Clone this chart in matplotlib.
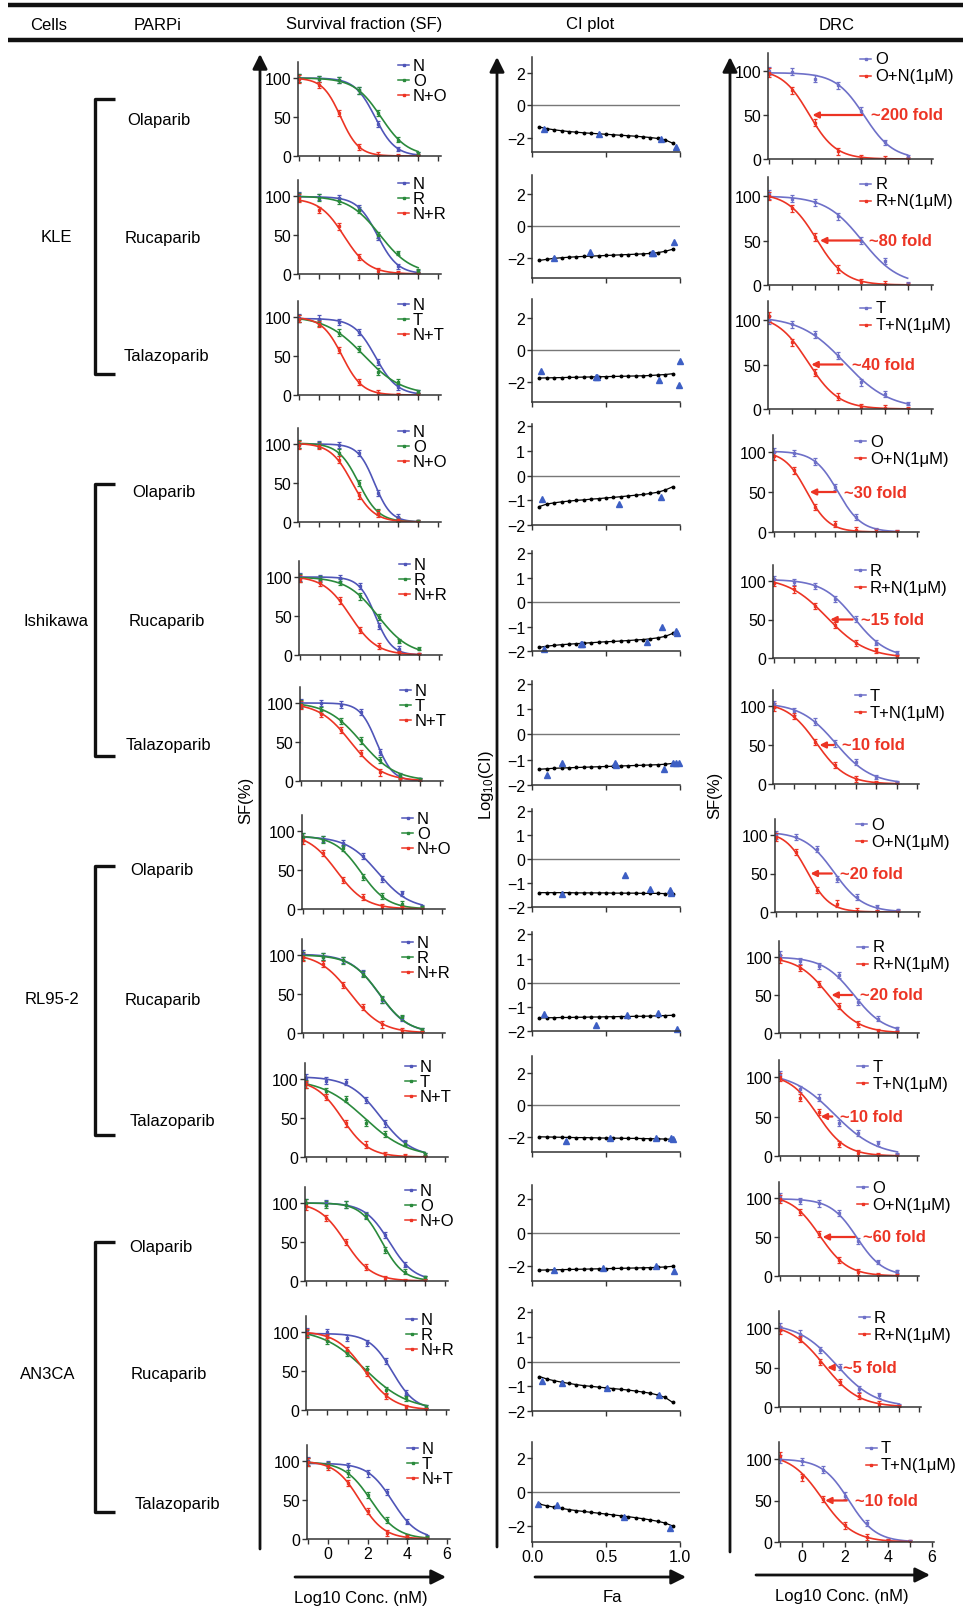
import numpy as np
import matplotlib.pyplot as plt

plt.rcParams['font.family'] = ['Liberation Sans', 'DejaVu Sans']
plt.rcParams['mathtext.default'] = 'regular'

# ---- data ----
cells = ['KLE', 'Ishikawa', 'RL95-2', 'AN3CA']
parpi = ['Olaparib', 'Rucaparib', 'Talazoparib'] * 4
drug = ['O', 'R', 'T'] * 4
dose = np.array([-1, 0, 1, 2, 3, 4, 5])  # log10 conc (nM)
sf_err = np.array([5, 4, 4, 4, 4, 3, 2])

# survival fraction, niraparib alone
sf_n = [
    [100, 99, 97, 84, 41, 9, 3],
    [100, 99, 97, 85, 47, 10, 3],
    [99, 98, 94, 81, 42, 10, 4],
    [100, 100, 99, 88, 37, 7, 1],
    [100, 99, 99, 88, 37, 8, 1],
    [100, 100, 98, 88, 37, 7, 2],
    [92, 90, 85, 68, 38, 20, 3],
    [101, 98, 94, 77, 42, 19, 4],
    [101, 98, 96, 73, 43, 19, 3],
    [100, 100, 98, 85, 59, 21, 5],
    [100, 100, 92, 86, 63, 22, 4],
    [100, 96, 93, 84, 60, 22, 3],
]
# survival fraction, PARPi alone
sf_p = [
    [100, 99, 97, 84, 55, 21, 3],
    [99, 98, 94, 82, 50, 27, 4],
    [98, 92, 80, 59, 30, 17, 4],
    [100, 99, 89, 50, 13, 3, 1],
    [99, 97, 94, 75, 49, 18, 8],
    [99, 91, 77, 52, 27, 6, 2],
    [92, 89, 78, 41, 17, 7, 2],
    [99, 98, 93, 76, 43, 20, 4],
    [94, 85, 74, 44, 29, 17, 3],
    [100, 98, 98, 83, 40, 12, 5],
    [97, 88, 73, 52, 25, 15, 4],
    [99, 95, 84, 56, 24, 3, 2],
]
# survival fraction, combination
sf_c = [
    [99, 91, 55, 12, 1, 0, 0],
    [97, 82, 61, 22, 4, 1, 0],
    [98, 91, 58, 17, 2, 0, 0],
    [99, 97, 80, 34, 11, 2, 0],
    [98, 92, 70, 32, 12, 2, 1],
    [97, 86, 65, 36, 11, 2, 0],
    [88, 72, 37, 15, 3, 1, 0],
    [97, 88, 62, 33, 11, 3, 1],
    [93, 77, 43, 16, 3, 1, 0],
    [96, 81, 50, 18, 3, 0, 0],
    [99, 94, 77, 48, 18, 4, 1],
    [99, 93, 72, 36, 8, 2, 0],
]

# combination index: median-effect line and measured points
fa_line = [0.05, 0.10, 0.15, 0.20, 0.25, 0.30, 0.35, 0.40, 0.45, 0.50,
           0.55, 0.60, 0.65, 0.70, 0.75, 0.80, 0.85, 0.90, 0.95]
ci_line = [
    [-1.35, -1.45, -1.52, -1.58, -1.63, -1.67, -1.71, -1.74, -1.77, -1.80, -1.83, -1.86, -1.89, -1.92, -1.96, -2.00, -2.06, -2.15, -2.35],
    [-2.15, -2.08, -2.02, -1.98, -1.95, -1.92, -1.90, -1.88, -1.86, -1.84, -1.82, -1.80, -1.78, -1.76, -1.74, -1.71, -1.66, -1.58, -1.45],
    [-1.75, -1.74, -1.73, -1.72, -1.71, -1.70, -1.69, -1.68, -1.67, -1.66, -1.65, -1.64, -1.63, -1.62, -1.61, -1.59, -1.56, -1.53, -1.48],
    [-1.25, -1.15, -1.10, -1.06, -1.03, -1.00, -0.98, -0.95, -0.93, -0.90, -0.88, -0.85, -0.82, -0.79, -0.76, -0.72, -0.67, -0.58, -0.45],
    [-1.85, -1.80, -1.77, -1.74, -1.72, -1.70, -1.68, -1.66, -1.64, -1.62, -1.61, -1.59, -1.57, -1.55, -1.53, -1.50, -1.46, -1.40, -1.28],
    [-1.38, -1.36, -1.34, -1.33, -1.32, -1.31, -1.30, -1.29, -1.28, -1.27, -1.26, -1.25, -1.24, -1.23, -1.22, -1.21, -1.20, -1.18, -1.15],
    [-1.40, -1.40, -1.40, -1.40, -1.40, -1.41, -1.41, -1.41, -1.41, -1.41, -1.42, -1.42, -1.42, -1.42, -1.43, -1.43, -1.43, -1.44, -1.45],
    [-1.46, -1.45, -1.45, -1.44, -1.44, -1.43, -1.43, -1.42, -1.42, -1.41, -1.41, -1.40, -1.40, -1.39, -1.39, -1.38, -1.37, -1.36, -1.35],
    [-2.00, -2.01, -2.02, -2.03, -2.04, -2.05, -2.05, -2.06, -2.07, -2.08, -2.08, -2.09, -2.10, -2.10, -2.11, -2.12, -2.13, -2.14, -2.16],
    [-2.25, -2.24, -2.23, -2.22, -2.21, -2.20, -2.19, -2.18, -2.17, -2.16, -2.15, -2.14, -2.13, -2.12, -2.11, -2.10, -2.08, -2.06, -2.02],
    [-0.60, -0.70, -0.77, -0.83, -0.88, -0.93, -0.97, -1.00, -1.03, -1.06, -1.09, -1.12, -1.15, -1.19, -1.23, -1.28, -1.35, -1.45, -1.65],
    [-0.70, -0.80, -0.88, -0.95, -1.02, -1.08, -1.13, -1.18, -1.23, -1.28, -1.33, -1.38, -1.43, -1.49, -1.55, -1.62, -1.70, -1.80, -1.97],
]
ci_pt_fa = [
    [0.08, 0.45, 0.87, 0.97],
    [0.15, 0.39, 0.81, 0.82, 0.96],
    [0.06, 0.43, 0.44, 0.86, 0.99, 1.0],
    [0.07, 0.59, 0.87],
    [0.08, 0.33, 0.34, 0.78, 0.88, 0.97, 0.98],
    [0.10, 0.20, 0.56, 0.57, 0.89, 0.95, 0.97, 0.99],
    [0.20, 0.63, 0.80, 0.93, 0.94],
    [0.08, 0.43, 0.64, 0.85, 0.98],
    [0.23, 0.53, 0.84, 0.94, 0.95],
    [0.15, 0.48, 0.84, 0.96],
    [0.07, 0.20, 0.51, 0.86],
    [0.04, 0.17, 0.62, 0.93],
]
ci_pt_val = [
    [-1.45, -1.80, -2.10, -2.60],
    [-2.0, -1.65, -1.70, -1.70, -1.0],
    [-1.3, -1.7, -1.7, -1.85, -2.2, -0.7],
    [-0.95, -1.15, -0.85],
    [-1.9, -1.7, -1.7, -1.65, -1.0, -1.2, -1.25],
    [-1.6, -1.15, -1.15, -1.2, -1.35, -1.15, -1.15, -1.15],
    [-1.45, -0.65, -1.25, -1.3, -1.4],
    [-1.3, -1.75, -1.35, -1.25, -1.9],
    [-2.25, -2.05, -2.05, -2.1, -2.15],
    [-2.25, -2.1, -2.0, -2.3],
    [-0.8, -0.85, -1.05, -1.35],
    [-0.7, -0.75, -1.45, -2.1],
]

# dose response, PARPi alone and PARPi + niraparib 1 uM
drc_p = [
    [100, 99, 91, 84, 55, 19, 2],
    [102, 97, 93, 77, 50, 27, 1],
    [100, 95, 84, 60, 30, 17, 6],
    [100, 99, 88, 56, 19, 2, 0],
    [102, 99, 94, 77, 51, 20, 7],
    [102, 93, 80, 52, 28, 9, 2],
    [100, 97, 82, 43, 19, 6, 2],
    [103, 95, 88, 76, 41, 19, 6],
    [102, 85, 74, 42, 29, 16, 2],
    [101, 96, 93, 81, 45, 18, 6],
    [101, 93, 72, 51, 23, 15, 2],
    [100, 97, 87, 56, 23, 1, 1],
]
drc_c = [
    [98, 78, 41, 9, 1, 0, 0],
    [100, 86, 54, 18, 3, 1, 0],
    [104, 75, 41, 14, 2, 1, 0],
    [95, 77, 31, 10, 2, 1, 0],
    [98, 89, 67, 43, 20, 10, 2],
    [99, 87, 54, 24, 6, 1, 0],
    [97, 78, 29, 11, 1, 0, 0],
    [97, 85, 64, 35, 12, 2, 1],
    [100, 74, 56, 15, 4, 1, 0],
    [99, 82, 54, 21, 5, 1, 0],
    [98, 86, 57, 32, 14, 4, 1],
    [104, 78, 52, 20, 6, 1, 0],
]
fold = ['~200 fold', '~80 fold', '~40 fold', '~30 fold', '~15 fold', '~10 fold',
        '~20 fold', '~20 fold', '~10 fold', '~60 fold', '~5 fold', '~10 fold']

# ---- layout (pixel positions in the 963x1608 canvas) ----
W, H = 963, 1608
sf_zero = [157, 275, 396, 523, 656, 782, 910, 1034, 1158, 1282, 1411, 1540]
sf_left = [298, 298, 298, 298, 299, 300, 302, 302, 305, 305, 306, 307]
ci_top = [58, 176, 300, 425, 552, 682, 810, 933, 1057, 1186, 1311, 1443]
ci_bottom = [153, 279, 403, 526, 652, 786, 908, 1032, 1153, 1282, 1412, 1543]
ci_ylim = [(-2.9, 3.0), (-3.25, 3.2), (-3.25, 3.2), (-2, 2.1), (-2, 2.1), (-2, 2.1),
           (-2, 2.1), (-2, 2.1), (-2.95, 3.05), (-2.9, 2.85), (-2, 2.1), (-2.9, 2.9)]
drc_zero = [160, 286, 410, 533, 659, 785, 913, 1034, 1157, 1277, 1408, 1543]
drc_h100 = [88, 89, 89, 80, 77, 78, 77, 76, 79, 78, 79, 83]
drc_left = [768, 768, 768, 773, 773, 773, 775, 779, 779, 779, 779, 779]
drc_right = [933, 933, 933, 919, 919, 919, 920, 919, 919, 919, 921, 934]
parpi_xy = [(159, 121), (163, 238), (166, 357), (164, 492), (167, 622), (168, 746),
            (162, 871), (163, 1001), (172, 1122), (161, 1248), (169, 1375), (177, 1505)]
cell_xy = [(56, 238), (56, 622), (52, 1000), (48, 1375)]
bracket_y = [(100, 375), (485, 757), (867, 1136), (1243, 1513)]

BLUE, GREEN, RED = '#4f55b8', '#2a8a3c', '#ec3424'
BLUE2 = '#6e70c8'
TRI = '#3d5fc4'
FS = 12

fig = plt.figure(figsize=(W / 100, H / 100), dpi=100)


def px_axes(left, top, right, bottom):
    return fig.add_axes([left / W, 1 - bottom / H, (right - left) / W, (bottom - top) / H])


def style(ax):
    for s in ['top', 'right']:
        ax.spines[s].set_visible(False)
    for s in ['left', 'bottom']:
        ax.spines[s].set_linewidth(1.1)
        ax.spines[s].set_color('#333333')
    ax.tick_params(direction='out', length=3.5, width=1, color='#333333',
                   labelsize=11.5, pad=1.5)
    ax.patch.set_alpha(0)


def hill(x, top, c, h):
    return top / (1 + 10 ** (h * (x - c)))


def fit_hill(x, y):
    tops = np.linspace(90, 106, 17)
    cs = np.linspace(-2, 6, 321)
    hs = np.linspace(0.3, 3.0, 55)
    T, C, S = np.meshgrid(tops, cs, hs, indexing='ij')
    pred = hill(x[None, None, None, :], T[..., None], C[..., None], S[..., None])
    sse = ((pred - np.asarray(y, float)) ** 2).sum(-1)
    i, j, k = np.unravel_index(sse.argmin(), sse.shape)
    return tops[i], cs[j], hs[k]


def mini_legend(ax, labels, colors, x0, y0, dy, hpx, wpx, fs):
    for j, (lab, col) in enumerate(zip(labels, colors)):
        y = y0 - j * dy / hpx
        ax.plot([x0, x0 + 11 / wpx], [y, y], transform=ax.transAxes, color=col,
                lw=1.1, clip_on=False)
        ax.plot([x0 + 5.5 / wpx], [y], 's', ms=2.0, color=col,
                transform=ax.transAxes, clip_on=False)
        ax.text(x0 + 15 / wpx, y, lab, transform=ax.transAxes, fontsize=fs,
                va='center', ha='left')


def dose_points(ax, vals, col):
    ax.errorbar(dose, vals, yerr=sf_err, fmt='s', ms=1.7, color=col,
                elinewidth=0.9, capsize=1.6, capthick=0.9)


xs = np.linspace(-1, 5, 200)
last = len(sf_n) - 1

for r in range(len(sf_n)):
    # survival fraction panel
    top = sf_zero[r] - 94
    ax = px_axes(sf_left[r], top, sf_left[r] + 143, sf_zero[r])
    style(ax)
    labels = ['N', drug[r], 'N+' + drug[r]]
    for vals, col in zip([sf_n[r], sf_p[r], sf_c[r]], [BLUE, GREEN, RED]):
        p = fit_hill(dose, vals)
        ax.plot(xs, hill(xs, *p), color=col, lw=1.2)
        dose_points(ax, vals, col)
    ax.set_xlim(-1.05, 6.15)
    ax.set_ylim(0, 120.5)
    ax.set_yticks([0, 50, 100])
    ax.set_xticks(range(-1, 7))
    if r == last:
        ax.set_xticklabels(['', '0', '', '2', '', '4', '', '6'])
    else:
        ax.tick_params(labelbottom=False)
    mini_legend(ax, labels, [BLUE, GREEN, RED], 0.70, 0.965, 15, 94, 143, FS)

    # combination index panel
    ax = px_axes(532, ci_top[r], 680, ci_bottom[r])
    style(ax)
    ax.axhline(0, color='#777777', lw=1.0)
    ax.plot(fa_line, ci_line[r], '-o', color='k', ms=1.8, lw=0.9)
    ax.plot(ci_pt_fa[r], ci_pt_val[r], '^', color=TRI, ms=4.2, ls='none', clip_on=False)
    ax.set_xlim(0, 1.0)
    ax.set_ylim(*ci_ylim[r])
    if ci_ylim[r][0] == -2:
        ax.set_yticks([-2, -1, 0, 1, 2])
    else:
        ax.set_yticks([-2, 0, 2])
    ax.set_xticks([0, 0.5, 1.0])
    if r == last:
        ax.set_xticklabels(['0.0', '0.5', '1.0'])
    else:
        ax.tick_params(labelbottom=False)

    # dose response panel
    hpx = drc_h100[r] * 1.21
    ax = px_axes(drc_left[r], drc_zero[r] - hpx, drc_right[r], drc_zero[r])
    style(ax)
    fits = []
    for vals, col in zip([drc_p[r], drc_c[r]], [BLUE2, RED]):
        p = fit_hill(dose, vals)
        fits.append(p)
        ax.plot(xs, hill(xs, *p), color=col, lw=1.2)
        dose_points(ax, vals, col)
    ax.set_xlim(-1.05, 6.1)
    ax.set_ylim(0, 121)
    ax.set_yticks([0, 50, 100])
    ax.set_xticks(range(-1, 7))
    if r == last:
        ax.set_xticklabels(['', '0', '', '2', '', '4', '', '6'])
    else:
        ax.tick_params(labelbottom=False)
    c_single, c_combo = fits[0][1], fits[1][1]
    ax.annotate('', xy=(c_combo + 0.15, 50), xytext=(c_single - 0.1, 50),
                arrowprops=dict(arrowstyle='-|>', color=RED, lw=1.6, mutation_scale=9,
                                shrinkA=0, shrinkB=0))
    ax.text(c_single + 0.3, 50, fold[r], color=RED, fontsize=12, fontweight='bold',
            va='center', ha='left')
    wpx = drc_right[r] - drc_left[r]
    mini_legend(ax, [drug[r], drug[r] + '+N(1μM)'], [BLUE2, RED], 0.56, 0.94, 17,
                hpx, wpx, FS)

# ---- figure furniture drawn in pixel coordinates ----
ov = fig.add_axes([0, 0, 1, 1], zorder=10)
ov.set_xlim(0, W)
ov.set_ylim(H, 0)
ov.axis('off')
ov.patch.set_alpha(0)

ov.plot([8, W], [6, 6], color='#111111', lw=3.2, solid_capstyle='butt')
ov.plot([8, W], [41, 41], color='#111111', lw=3.2, solid_capstyle='butt')
for txt, x in zip(['Cells', 'PARPi', 'Survival fraction (SF)', 'CI plot', 'DRC'],
                  [49, 158, 364, 590, 837]):
    ov.text(x, 25, txt, fontsize=FS, ha='center', va='center')

for name, (x, y) in zip(cells, cell_xy):
    ov.text(x, y, name, fontsize=FS, ha='center', va='center')
for name, (x, y) in zip(parpi, parpi_xy):
    ov.text(x, y, name, fontsize=FS, ha='center', va='center')
for y0, y1 in bracket_y:
    ov.plot([115, 95, 95, 115], [y0, y0, y1, y1], color='#111111', lw=2.4,
            solid_joinstyle='round', solid_capstyle='butt')

arrow = dict(arrowstyle='-|>', color='#111111', lw=2.0, mutation_scale=22,
             shrinkA=0, shrinkB=0)
for x, y0, y1 in [(260, 1550, 55), (497, 1548, 58), (730, 1553, 58)]:
    ov.annotate('', xy=(x, y1), xytext=(x, y0), arrowprops=arrow)
for x0, x1, y in [(295, 446, 1578), (535, 686, 1578), (756, 930, 1576)]:
    ov.annotate('', xy=(x1, y), xytext=(x0, y), arrowprops=arrow)

ov.text(246, 800, 'SF(%)', fontsize=FS, rotation=90, ha='center', va='center')
ov.text(486, 785, 'Log$_{10}$(CI)', fontsize=FS, rotation=90, ha='center', va='center')
ov.text(715, 795, 'SF(%)', fontsize=FS, rotation=90, ha='center', va='center')
ov.text(361, 1599, 'Log10 Conc. (nM)', fontsize=FS, ha='center', va='center')
ov.text(612, 1598, 'Fa', fontsize=FS, ha='center', va='center')
ov.text(842, 1597, 'Log10 Conc. (nM)', fontsize=FS, ha='center', va='center')

fig.savefig('out.png', dpi=100)
